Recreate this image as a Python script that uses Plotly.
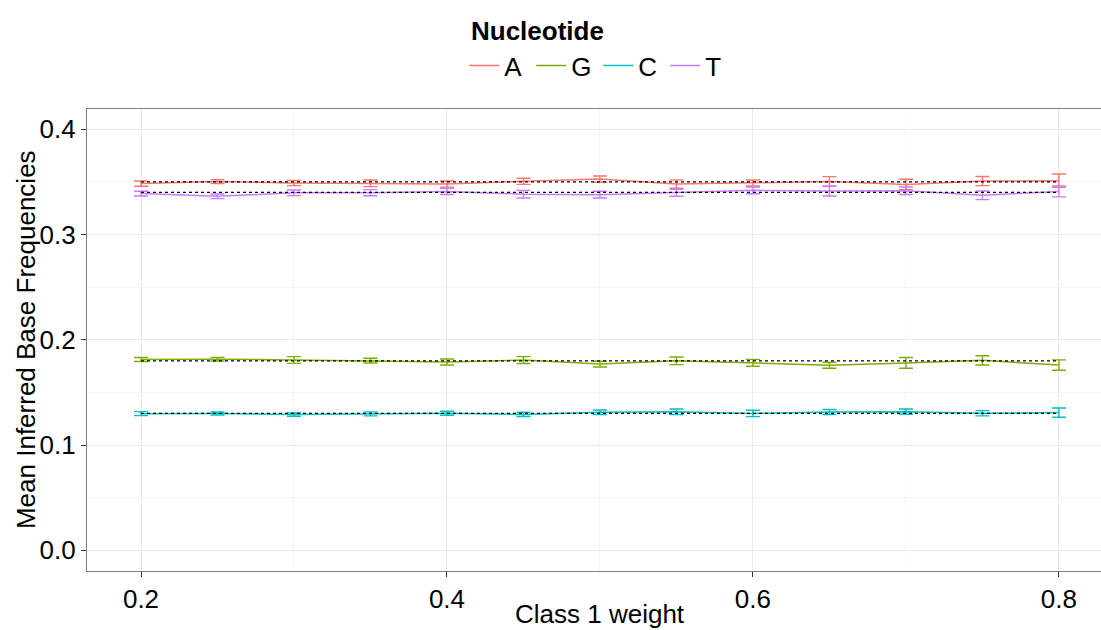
import plotly.graph_objects as go

weights = [0.2, 0.25, 0.3, 0.35, 0.4, 0.45, 0.5, 0.55, 0.6, 0.65, 0.7, 0.75, 0.8]
nucleotides = ["A", "G", "C", "T"]
colors = {"A": "#F8766D", "G": "#7CAE00", "C": "#00BFC4", "T": "#C77CFF"}

mean_A = [0.3484, 0.3503, 0.3490, 0.3487, 0.3480, 0.3506, 0.3527, 0.3480, 0.3490, 0.3504, 0.3476, 0.3508, 0.3512]
err_A = [0.0025, 0.0019, 0.0025, 0.0032, 0.0029, 0.0029, 0.0030, 0.0040, 0.0029, 0.0046, 0.0049, 0.0043, 0.0063]
mean_G = [0.1812, 0.1816, 0.1808, 0.1802, 0.1789, 0.1807, 0.1769, 0.1800, 0.1781, 0.1758, 0.1780, 0.1805, 0.1760]
err_G = [0.0019, 0.0017, 0.0032, 0.0022, 0.0029, 0.0033, 0.0027, 0.0036, 0.0033, 0.0029, 0.0051, 0.0044, 0.0049]
mean_C = [0.1298, 0.1300, 0.1289, 0.1296, 0.1302, 0.1291, 0.1311, 0.1316, 0.1300, 0.1313, 0.1317, 0.1302, 0.1308]
err_C = [0.0019, 0.0014, 0.0016, 0.0019, 0.0019, 0.0020, 0.0022, 0.0027, 0.0030, 0.0024, 0.0025, 0.0025, 0.0044]
mean_T = [0.3389, 0.3363, 0.3397, 0.3398, 0.3410, 0.3384, 0.3379, 0.3397, 0.3420, 0.3414, 0.3416, 0.3373, 0.3410]
err_T = [0.0022, 0.0022, 0.0027, 0.0029, 0.0030, 0.0036, 0.0032, 0.0033, 0.0032, 0.0048, 0.0036, 0.0041, 0.0052]

expected = {"A": 0.35, "G": 0.18, "C": 0.13, "T": 0.34}

means = {"A": mean_A, "G": mean_G, "C": mean_C, "T": mean_T}
errs = {"A": err_A, "G": err_G, "C": err_C, "T": err_T}

FONT = "Liberation Sans, Arial, sans-serif"

fig = go.Figure()
for n in nucleotides:
    fig.add_trace(go.Scatter(
        x=weights, y=means[n], mode="lines", name=n,
        line=dict(color=colors[n], width=1.5),
        error_y=dict(type="data", array=errs[n], visible=True,
                     color=colors[n], thickness=1.4, width=7),
    ))
for n in nucleotides:
    fig.add_trace(go.Scatter(
        x=[weights[0], weights[-1]], y=[expected[n], expected[n]],
        mode="lines", showlegend=False, hoverinfo="skip",
        line=dict(color="black", width=1.3, dash="dot"),
    ))

fig.update_layout(
    width=1101, height=630,
    margin=dict(l=87, r=0, t=109, b=59),
    paper_bgcolor="white", plot_bgcolor="white",
    font=dict(family=FONT, size=26, color="black"),
    legend=dict(
        orientation="h", x=0.372, xanchor="left", y=1.145, yanchor="top",
        font=dict(size=26), itemwidth=30, tracegroupgap=0, entrywidth=22,
        bgcolor="rgba(0,0,0,0)",
    ),
    xaxis=dict(
        range=[0.1647, 0.8275], tick0=0.2, dtick=0.2, tickformat=".1f",
        showgrid=True, gridcolor="#ebebeb", gridwidth=1,
        minor=dict(dtick=0.1, tick0=0.2, showgrid=True, gridcolor="#f5f5f5", gridwidth=1),
        showline=True, linecolor="#7f7f7f", linewidth=1.2, mirror=True,
        ticks="outside", ticklen=5, tickcolor="#333333", tickwidth=1.2,
        zeroline=False, tickfont=dict(size=26, color="black"),
    ),
    yaxis=dict(
        range=[-0.0197, 0.4193], tick0=0, dtick=0.1, tickformat=".1f",
        showgrid=True, gridcolor="#ebebeb", gridwidth=1,
        minor=dict(dtick=0.05, tick0=0, showgrid=True, gridcolor="#f5f5f5", gridwidth=1),
        showline=True, linecolor="#7f7f7f", linewidth=1.2, mirror=True,
        ticks="outside", ticklen=5, tickcolor="#333333", tickwidth=1.2,
        zeroline=False, tickfont=dict(size=26, color="black"),
    ),
    annotations=[
        dict(text="<b>Nucleotide</b>", xref="paper", yref="paper",
             x=0.3767, y=1.169, xanchor="left", yanchor="middle",
             showarrow=False, font=dict(size=26, color="black")),
        dict(text="Class 1 weight", xref="paper", yref="paper",
             x=0.506, y=-0.094, xanchor="center", yanchor="middle",
             showarrow=False, font=dict(size=26, color="black")),
        dict(text="Mean Inferred Base Frequencies", xref="paper", yref="paper",
             x=-0.0601, y=0.5, xanchor="center", yanchor="middle", textangle=-90,
             showarrow=False, font=dict(size=26, color="black")),
    ],
)

fig.write_html("out.html")
